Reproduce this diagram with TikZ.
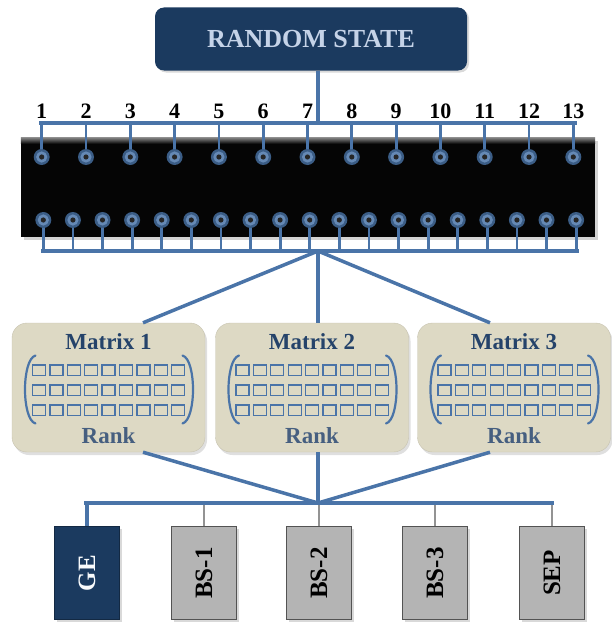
\documentclass[tikz,border=0pt]{standalone}
\usepackage{fontspec}
\setmainfont{Liberation Serif}
\usetikzlibrary{positioning,calc,shadows}
\definecolor{navy}{HTML}{1B3A5F}
\definecolor{wireblue}{HTML}{4A74A8}
\definecolor{beige}{HTML}{DDD9C4}
\definecolor{inknavy}{HTML}{25436A}
\definecolor{paleblue}{HTML}{C5D3E8}
\definecolor{boxgray}{HTML}{B4B4B4}

\begin{document}
\begin{tikzpicture}[x=1pt,y=-1pt,
	wire/.style={draw=wireblue,line width=3.5pt},
	pin/.style={draw=wireblue,line width=2.8pt},
	gray wire/.style={draw=gray!85,line width=2.5pt},
	bracket/.style={draw=wireblue,line width=2.2pt,line cap=round},
	cell/.style={draw=wireblue,line width=1.3pt},
	state node/.style={rectangle,rounded corners=9pt,fill=navy,text=paleblue,
		minimum width=312pt,minimum height=63pt,
		drop shadow={opacity=0.3,shadow xshift=2pt,shadow yshift=-2pt},
		font=\fontsize{26}{30}\selectfont\bfseries},
	chip node/.style={rectangle,fill=black!98,minimum width=574pt,minimum height=99pt,
		drop shadow={opacity=0.35,shadow xshift=3pt,shadow yshift=-3pt}},
	matrix node/.style={rectangle,rounded corners=15pt,fill=beige,draw=beige!90!black,
		minimum width=193pt,minimum height=129pt,
		drop shadow={opacity=0.25,shadow xshift=2pt,shadow yshift=-3pt}},
	label node/.style={text=inknavy,font=\fontsize{23}{26}\selectfont\bfseries},
	num node/.style={anchor=base,inner sep=0pt,font=\fontsize{22}{24}\selectfont\bfseries},
	out node/.style={rectangle,fill=boxgray,draw=gray!65!black,line width=1pt,
		minimum width=65pt,minimum height=93pt,
		drop shadow={opacity=0.3,shadow xshift=2pt,shadow yshift=-2pt},
		font=\fontsize{25}{28}\selectfont\bfseries}]
	
	\useasboundingbox (0,0) rectangle (611,626);
	
	\node[state node] (rs) at (311,39) {RANDOM STATE};
	\coordinate (top) at (318,123);
	\coordinate (bot) at (318,251);
	\coordinate (hub) at (318,503);
	
	% chip with pins
	\node[chip node] (chip) at (308,187.5) {};
	\fill[top color=black!50,bottom color=black!98] (chip.north west) rectangle ([yshift=-6pt]chip.north east);
	
	\draw[wire] (rs.south -| top) -- (top);
	\draw[wire] (39,123) -- (577,123);
	\draw[wire] (41,251) -- (579,251);
	
	\foreach \i [count=\n] in {0,...,12} {
		\pgfmathsetmacro\px{41.7+44.3*\i}
		\draw[pin] (\px,123) -- (\px,157);
		\fill[wireblue!80!black] (\px,157) circle (8pt);
		\fill[wireblue!85!white] (\px,157) circle (5.6pt);
		\fill[black!85] (\px,157) circle (2.6pt);
		\node[num node] (n\n) at (\px,118) {\n};
	}
	\foreach \i in {0,...,18} {
		\pgfmathsetmacro\px{43.3+29.6*\i}
		\draw[pin] (\px,220) -- (\px,251);
		\fill[wireblue!80!black] (\px,220) circle (8pt);
		\fill[wireblue!85!white] (\px,220) circle (5.6pt);
		\fill[black!85] (\px,220) circle (2.6pt);
	}
	
	% matrices
	\foreach \m/\cx in {1/108.5,2/312,3/514} {
		\node[matrix node] (m\m) at (\cx,387.5) {};
		\begin{scope}[shift={(m\m.center)}]
			\foreach \c in {0,...,8}
			\foreach \r in {0,1,2}
			\draw[cell] (-76+17.4*\c,-22.5+20*\r) rectangle +(13,10.5);
			\draw[bracket] (-73,-32) .. controls (-87,-28) and (-87,32) .. (-73,36);
			\draw[bracket] (74,-32) .. controls (88,-28) and (88,32) .. (74,36);
			\node[label node] (t\m) at (0,-46) {Matrix \m};
			\node[label node,text=inknavy!85] (r\m) at (0,48) {Rank};
		\end{scope}
	}
	
	% outputs
	\node[out node,fill=navy,draw=navy!70!black,text=white!90!paleblue] (ge) at (87,573) {\rotatebox{90}{GE}};
	\node[out node] (bs1) at (204,573) {\rotatebox{90}{BS-1}};
	\node[out node] (bs2) at (319,573) {\rotatebox{90}{BS-2}};
	\node[out node] (bs3) at (435,573) {\rotatebox{90}{BS-3}};
	\node[out node] (sep) at (552,573) {\rotatebox{90}{SEP}};
	
	\draw[wire] (bot) -- ([xshift=34.5pt]m1.north);
	\draw[wire] (bot) -- (bot |- m2.north);
	\draw[wire] (bot) -- ([xshift=-24pt]m3.north);
	\draw[wire] (hub) -- ([xshift=34.5pt]m1.south);
	\draw[wire] (hub) -- (hub |- m2.south);
	\draw[wire] (hub) -- ([xshift=-24pt]m3.south);
	
	\draw[wire] ([xshift=-3pt]ge.north |- hub) -- ([xshift=2pt]sep.north |- hub);
	\draw[wire] (ge.north |- hub) -- (ge.north);
	\foreach \o in {bs1,bs2,bs3,sep}
	\draw[gray wire] ([yshift=-2pt]\o.north |- hub) -- (\o.north);
\end{tikzpicture}
\end{document}
